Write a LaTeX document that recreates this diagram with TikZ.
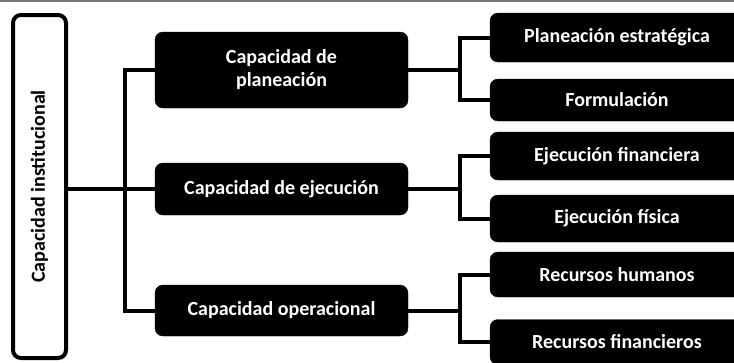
\documentclass[tikz,border=0pt]{standalone}
\usepackage{fontspec}
\setmainfont{Carlito}
\usepackage{tikz}
\usetikzlibrary{positioning}
\definecolor{CajaNegra}{RGB}{0, 0, 0}
\definecolor{BordeGris}{RGB}{120, 120, 120}
\tikzset{
  caja/.style={rectangle, rounded corners=8pt, fill=#1, draw=#1,
               text=white, font=\fontsize{20}{23}\selectfont\bfseries,
               align=center, inner sep=0pt},
  raiz/.style={rectangle, rounded corners=8pt, draw=#1, fill=white,
               line width=4pt, font=\fontsize{20}{23}\selectfont\bfseries,
               text=#1, inner sep=0pt},
  linea/.style={line width=4pt, color=#1},
}

\begin{document}
\begin{tikzpicture}[x=1pt, y=-1pt]
  \clip (0,0) rectangle (734,362);
  \useasboundingbox (0,0) rectangle (734,362);
  \draw[BordeGris, line width=1.5pt] (0,0.75) -- (734,0.75);
  % raiz
  \node[raiz=CajaNegra, minimum width=53pt, minimum height=343pt]
        (inst) at (39.5,186.5) {\rotatebox{90}{Capacidad institucional}};
  % capacidades
  \node[caja=CajaNegra, minimum width=253pt, minimum height=76pt]
        (cp) at (281.5,70) {Capacidad de\\planeación};
  \node[caja=CajaNegra, minimum width=253pt, minimum height=52pt]
        (ce) at (281.5,189) {Capacidad de ejecución};
  \node[caja=CajaNegra, minimum width=253pt, minimum height=51pt]
        (co) at (281.5,310.5) {Capacidad operacional};
  % componentes
  \node[caja=CajaNegra, minimum width=254pt, minimum height=49pt]
        (pe) at (617,37.5) {Planeación estratégica};
  \node[caja=CajaNegra, minimum width=254pt, minimum height=42pt]
        (fo) at (617,100) {Formulación};
  \node[caja=CajaNegra, minimum width=254pt, minimum height=48pt]
        (ef) at (617,156) {Ejecución financiera};
  \node[caja=CajaNegra, minimum width=254pt, minimum height=47pt]
        (efi) at (617,218.5) {Ejecución física};
  \node[caja=CajaNegra, minimum width=254pt, minimum height=45pt]
        (rh) at (617,274.5) {Recursos humanos};
  \node[caja=CajaNegra, minimum width=254pt, minimum height=45pt]
        (rf) at (617,342) {Recursos financieros};
  % conectores
  \draw[linea=CajaNegra] (inst.east |- ce.west) -- (ce.west);
  \draw[linea=CajaNegra] (cp.west) -- ++(-30,0) |- (co.west);
  \foreach \m/\a/\b in {cp/pe/fo, ce/ef/efi, co/rh/rf} {
    \draw[linea=CajaNegra] (\m.east) -- ++(52,0);
    \draw[linea=CajaNegra] (\a.west) -- ++(-30,0) |- (\b.west);
  }
\end{tikzpicture}
\end{document}
